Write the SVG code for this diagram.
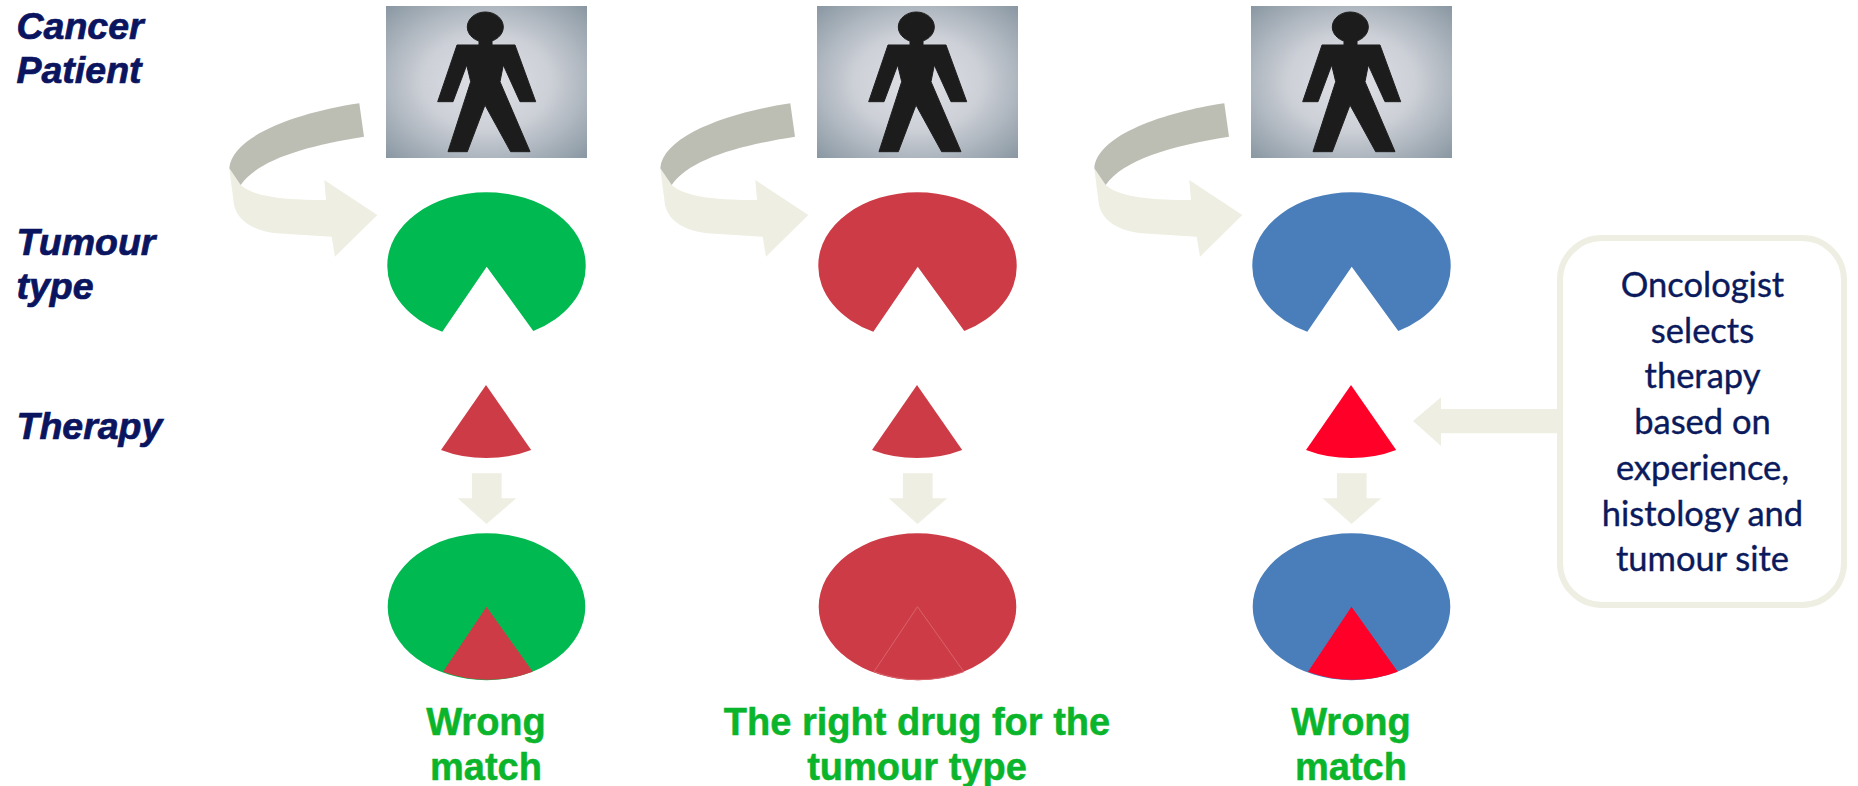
<svg xmlns="http://www.w3.org/2000/svg" width="1858" height="786" viewBox="0 0 1858 786">
<style>
.row{font:italic bold 37.5px "Liberation Sans",Arial,sans-serif;fill:#0a145f;stroke:#0a145f;stroke-width:.7}
.res{font:bold 38px "Liberation Sans",Arial,sans-serif;fill:#0ab52c;stroke:#0ab52c;stroke-width:.5;text-anchor:middle}
.note{font:34.5px Lato,"Open Sans",sans-serif;fill:#0b1a5c;stroke:#0b1a5c;stroke-width:.4;text-anchor:middle}
.green{fill:#00b950}.red{fill:#cd3c46}.blue{fill:#4a7ebb}.bright{fill:#ff0028}
.pale{fill:#eeeee2}.grey{fill:#bdbeb3}
</style>
<defs>
<radialGradient id="bg" cx="50%" cy="50%" r="70%"><stop offset="0" stop-color="#e0e1e7"/><stop offset=".45" stop-color="#cdd0d7"/><stop offset="1" stop-color="#8a98a3"/></radialGradient>
<filter id="soft" x="-5%" y="-5%" width="110%" height="110%"><feGaussianBlur stdDeviation="0.7"/></filter>
<g id="patient">
<rect x="386" y="6" width="201" height="152" fill="url(#bg)"/>
<g fill="#1d1d1d" stroke="#1d1d1d" stroke-width="1" filter="url(#soft)">
<ellipse cx="485.3" cy="27" rx="18" ry="15"/>
<path d="M479,40H492V45H515L535.7,101.7H520L503.3,65L500,81.7L530,151.7H510.7L485,105L467.3,151.7H448L470.7,81.7L466.7,65L453,101.7H437.7L457,45H479Z"/>
</g>
</g>
<path id="pie" d="M486.7,266.7L533.3,331A99.2,73 0 0 0 585.7,265.3A99.2,73 0 1 0 387.3,265.3A99.2,73 0 0 0 442.3,331.7Z"/>
<path id="slice" d="M486,385L531.2,450A98.8,73.5 0 0 1 441,450Z"/>
<path id="whole" d="M585.3,606.7A98.8,73.4 0 1 0 387.7,606.7A98.8,73.4 0 1 0 585.3,606.7Z"/>
<path id="inset" d="M486.5,606.7L532.8,671.7A98.8,73.4 0 0 1 443,671.7Z"/>
<g id="curve">
<path class="pale" d="M229.3,168.3L234,205C238,222 255,231 276.7,233.3L331.7,236.7L335,256.7L377.3,215L324.3,180L326,200C290,200 255,198 240.7,185Z"/>
<path class="grey" d="M359.3,103.3C300,112 232,135 229.3,168.3L240.7,185C258,160 305,146 364,136.7Z"/>
</g>
<path id="down" class="pale" d="M471.9,473.3H501.6V498.3H516.2L486.5,524L457.7,498.3H471.9Z"/>
</defs>
<g id="row-labels">
<text class="row" x="16.5" y="38.5">Cancer</text>
<text class="row" x="16.5" y="83">Patient</text>
<text class="row" x="16.5" y="255">Tumour</text>
<text class="row" x="16.5" y="299">type</text>
<text class="row" x="16.5" y="439">Therapy</text>
</g>
<g id="connectors">
<use href="#curve"/>
<use href="#curve" x="431"/>
<use href="#curve" x="865"/>
<use href="#down"/>
<use href="#down" x="431"/>
<use href="#down" x="865"/>
<path class="pale" d="M1557,409V433.3H1441V446L1413,421L1441,397.3V409Z"/>
</g>
<g id="patient-1"><use href="#patient"/></g>
<g id="patient-2"><use href="#patient" x="431"/></g>
<g id="patient-3"><use href="#patient" x="865"/></g>
<g id="tumour-1"><use href="#pie" class="green"/></g>
<g id="tumour-2"><use href="#pie" class="red" x="431"/></g>
<g id="tumour-3"><use href="#pie" class="blue" x="865"/></g>
<g id="therapy-1"><use href="#slice" class="red"/></g>
<g id="therapy-2"><use href="#slice" class="red" x="431"/></g>
<g id="therapy-3"><use href="#slice" class="bright" x="865"/></g>
<g id="result-1"><use href="#whole" class="green"/><use href="#inset" class="red"/>
<text class="res" x="486" y="735">Wrong</text><text class="res" x="486" y="780">match</text></g>
<g id="result-2"><use href="#whole" class="red" x="431"/><use href="#inset" class="red" x="431" stroke="#d9626b" stroke-width="1"/>
<text class="res" x="917" y="735">The right drug for the</text><text class="res" x="917" y="780">tumour type</text></g>
<g id="result-3"><use href="#whole" class="blue" x="865"/><use href="#inset" class="bright" x="865"/>
<text class="res" x="1351" y="735">Wrong</text><text class="res" x="1351" y="780">match</text></g>
<g id="oncologist-note">
<rect x="1560" y="238" width="284" height="367" rx="42" fill="#fff" stroke="#eeeee2" stroke-width="6"/>
<text class="note" x="1702.5" y="297">Oncologist</text>
<text class="note" x="1702.5" y="343">selects</text>
<text class="note" x="1702.5" y="388">therapy</text>
<text class="note" x="1702.5" y="434">based on</text>
<text class="note" x="1702.5" y="480">experience,</text>
<text class="note" x="1702.5" y="526">histology and</text>
<text class="note" x="1702.5" y="571">tumour site</text>
</g>
</svg>
